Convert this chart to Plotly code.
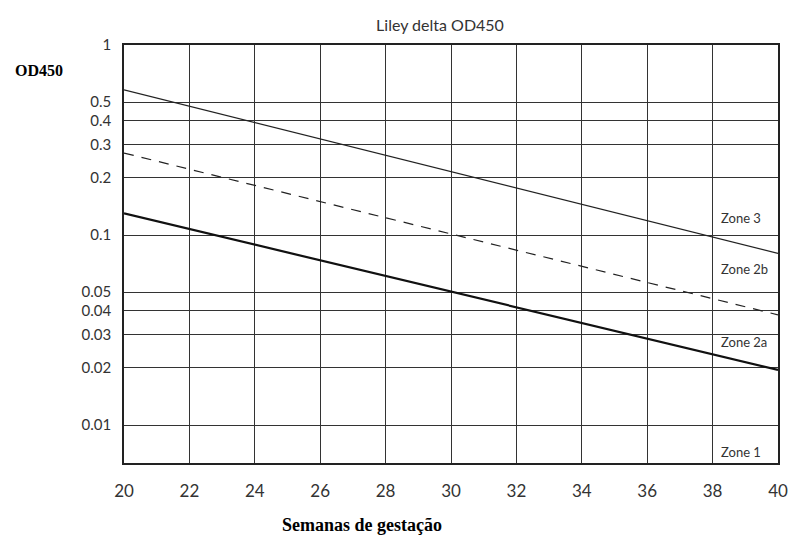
import plotly.graph_objects as go
import math

# Data
weeks = [20, 40]
zone3_line = [0.58, 0.08]      # upper boundary (Zone 3 / 2b)
zone2_mid = [0.27, 0.038]      # dashed (Zone 2b / 2a)
zone1_line = [0.13, 0.0195]    # lower boundary (Zone 2a / 1)

x_ticks = list(range(20, 41, 2))
y_ticks = [1, 0.5, 0.4, 0.3, 0.2, 0.1, 0.05, 0.04, 0.03, 0.02, 0.01]
y_ticktext = ["1", "0.5", "0.4", "0.3", "0.2", "0.1", "0.05", "0.04", "0.03", "0.02", "0.01"]

zone_labels = ["Zone 3", "Zone 2b", "Zone 2a", "Zone 1"]
zone_label_y = [0.123, 0.066, 0.0275, 0.0072]

W, H = 793, 536
L, R, T, B = 124, 15, 45, 73
PW, PH = W - L - R, H - T - B

fig = go.Figure()
fig.add_trace(go.Scatter(x=weeks, y=zone3_line, mode="lines",
                         line=dict(color="#222", width=1.2), showlegend=False))
fig.add_trace(go.Scatter(x=weeks, y=zone2_mid, mode="lines",
                         line=dict(color="#222", width=1.2, dash="10px,8px"), showlegend=False))
fig.add_trace(go.Scatter(x=weeks, y=zone1_line, mode="lines",
                         line=dict(color="#111", width=2.2), showlegend=False))

for lab, yv in zip(zone_labels, zone_label_y):
    fig.add_annotation(x=38.2, y=math.log10(yv), xref="x", yref="y", text=lab,
                       showarrow=False, xanchor="left", yanchor="middle",
                       font=dict(family="Lato, Noto Sans, sans-serif", size=13, color="#333"))

fig.add_annotation(x=(13 - L) / PW, y=1 + (T - 70) / PH, xref="paper", yref="paper",
                   text="<b>OD450</b>", showarrow=False, xanchor="left", yanchor="middle",
                   font=dict(family="Liberation Serif, serif", size=16, color="#000"))
fig.add_annotation(x=(362 - L) / PW, y=-(525 - (H - B)) / PH, xref="paper", yref="paper",
                   text="<b>Semanas de gestação</b>", showarrow=False, xanchor="center", yanchor="middle",
                   font=dict(family="Liberation Serif, serif", size=18, color="#000"))

fig.update_layout(
    width=W, height=H,
    margin=dict(l=L, r=R, t=T, b=B, autoexpand=False),
    paper_bgcolor="white", plot_bgcolor="white",
    title=dict(text="Liley delta OD450", x=440 / W, xanchor="center", y=1 - 25 / H, yanchor="middle",
               font=dict(family="Lato, Noto Sans, sans-serif", size=16, color="#333")),
    font=dict(family="Lato, Noto Sans, sans-serif", color="#333"),
    xaxis=dict(range=[20, 40], tickvals=x_ticks, showgrid=True, gridcolor="#333", gridwidth=1.3,
               showline=True, mirror=True, linecolor="#222", linewidth=1.5, zeroline=False,
               automargin=False,
               ticks="", ticklabelstandoff=12, tickfont=dict(size=17, color="#333")),
    yaxis=dict(type="log", range=[-2.2, 0], tickvals=y_ticks, ticktext=y_ticktext,
               showgrid=True, gridcolor="#333", gridwidth=1.3, automargin=False,
               showline=True, mirror=True, linecolor="#222", linewidth=1.5, zeroline=False,
               ticks="", ticklabelstandoff=8, tickfont=dict(size=15, color="#333")),
)

fig.write_html("out.html")
